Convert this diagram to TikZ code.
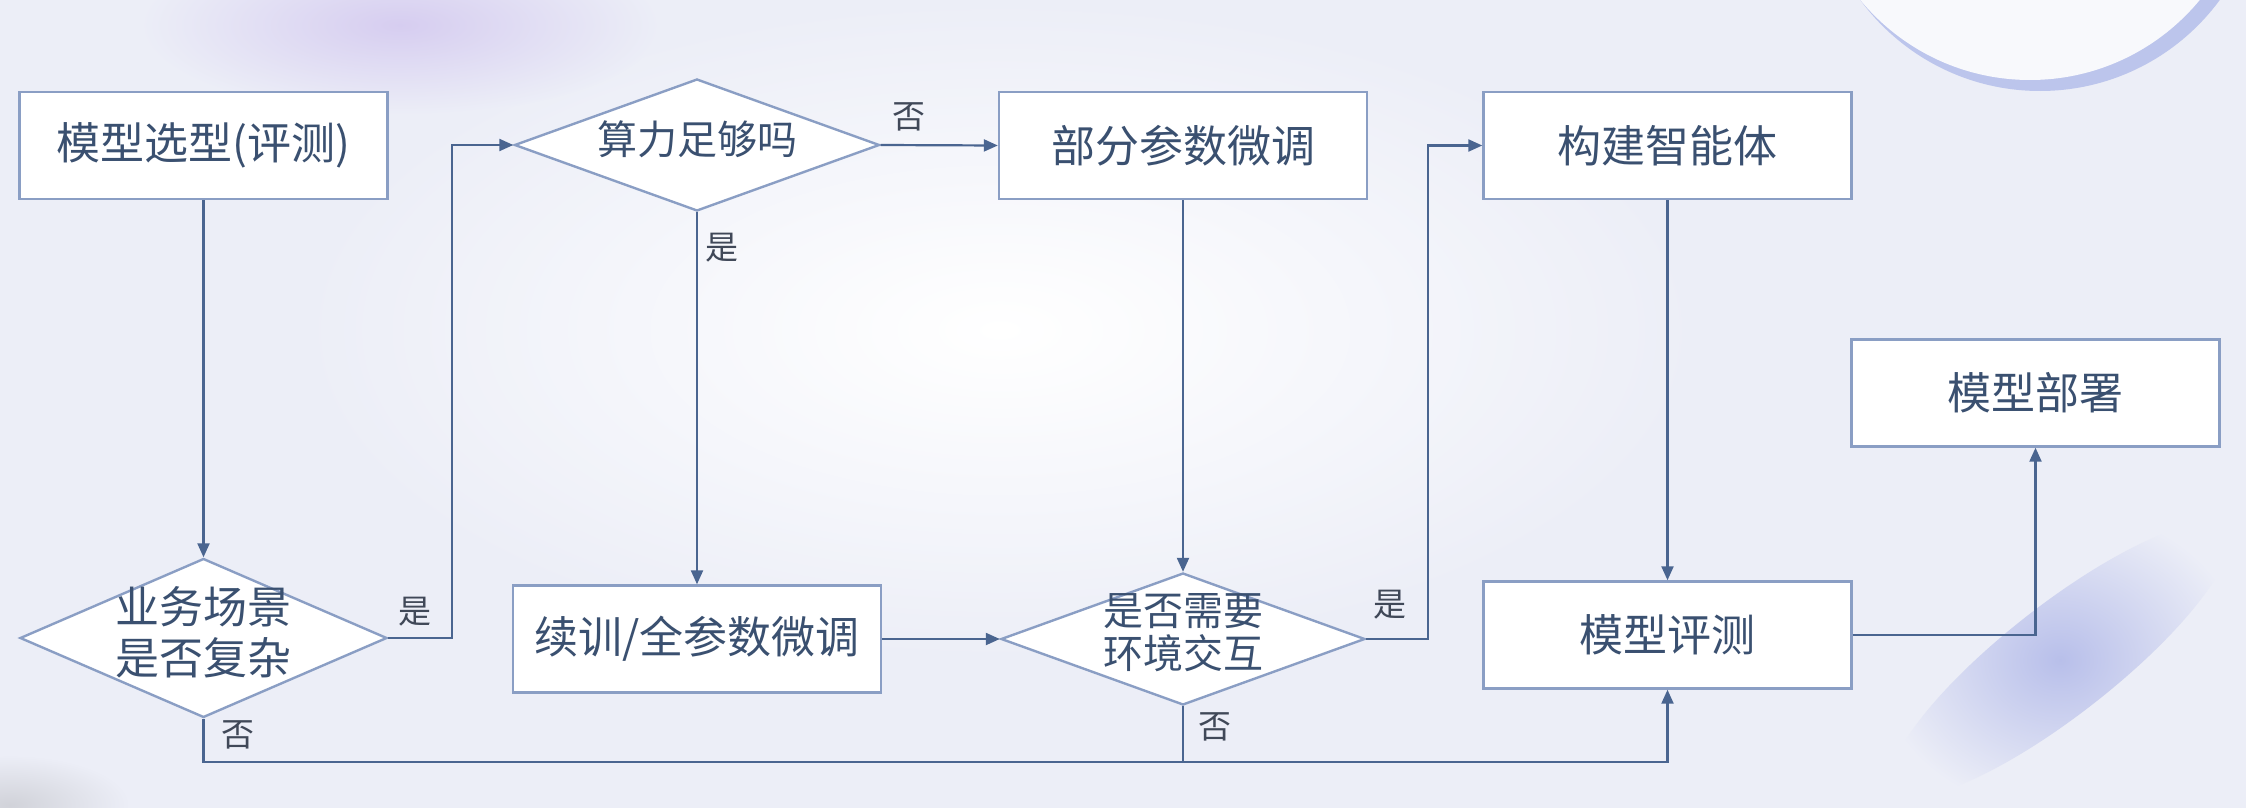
\documentclass[tikz,border=0pt]{standalone}
\usepackage{fontspec}
\newfontfamily\cjk{Noto Sans CJK SC}
\usetikzlibrary{shapes.geometric,arrows.meta}
\definecolor{bg}{HTML}{ECEEF7}
\definecolor{lav}{HTML}{D6CDF0}
\definecolor{blur}{HTML}{B8BFEA}
\definecolor{rim}{HTML}{BCC5EC}
\definecolor{edgec}{HTML}{8A9EC4}
\definecolor{wirec}{HTML}{4A6590}
\definecolor{inkc}{HTML}{3A5070}
\definecolor{labc}{HTML}{404858}
\newcommand\dtext[1]{\smash{\makebox[0pt]{\parbox[c]{340pt}{\centering #1}}}}
\begin{document}
\begin{tikzpicture}[x=1pt,y=-1pt,
  box/.style={draw=edgec,line width=2.4pt,fill=white,minimum width=368pt,minimum height=107pt,inner sep=0pt,
    font=\cjk\fontsize{44}{48}\selectfont,text=inkc},
  dia/.style={diamond,draw=edgec,line width=2.4pt,fill=white,inner sep=0pt,
    font=\cjk\fontsize{40}{43}\selectfont,text=inkc},
  wire/.style={draw=wirec,line width=2.2pt},
  arr/.style={wire,-{Triangle[length=14pt,width=12pt]}},
  lab/.style={font=\cjk\fontsize{33}{35}\selectfont,text=labc,inner sep=0pt}
]
\useasboundingbox (0,0) rectangle (2246,808);
% background
\begin{scope}
\clip (0,0) rectangle (2246,808);
\fill[bg] (0,0) rectangle (2246,808);
\shade[inner color=white,outer color=bg] (1000,330) ellipse (700 and 330);
\shade[inner color=lav,outer color=bg] (400,25) ellipse (260 and 90);
\shade[inner color=blur,outer color=bg,rotate around={38:(2060,660)}] (2060,660) ellipse (210 and 55);
\shade[inner color=gray!25!bg,outer color=bg] (10,805) ellipse (120 and 50);
\fill[rim] (2040,-132) circle (223);
\fill[white!65!bg] (2030,-140) circle (220);
\end{scope}

% nodes
\node[box] (A) at (203.5,145.5) {模型选型(评测)};
\node[dia,minimum width=365pt,minimum height=132pt] (B) at (697,145) {\dtext{算力足够吗}};
\node[box] (C) at (1183,145.5) {部分参数微调};
\node[box] (D) at (1667.5,145.5) {构建智能体};
\node[box] (E) at (2035.5,393) {模型部署};
\node[dia,minimum width=367pt,minimum height=159pt,font=\cjk\fontsize{44}{51}\selectfont] (F) at (203.5,638) {\dtext{业务场景\\是否复杂}};
\node[box] (G) at (697,639) {续训/全参数微调};
\node[dia,minimum width=364pt,minimum height=132pt] (H) at (1183,639) {\dtext{是否需要\\环境交互}};
\node[box] (I) at (1667.5,635) {模型评测};
\coordinate (bus) at (0,762);

% connectors
\draw[arr] (A.south) -- (F.north);
\draw[arr] (F.east) -- ++(64,0) |- (B.west);
\draw[arr] (B.east) -- (C.west);
\draw[arr] (B.south) -- (G.north);
\draw[arr] (C.south) -- (H.north);
\draw[arr] (G.east) -- (H.west);
\draw[arr] (H.east) -- ++(62,0) |- (D.west);
\draw[arr] (D.south) -- (I.north);
\draw[arr] (F.south) -- (F.south |- bus) -| (I.south);
\draw[wire] (H.south) -- (H.south |- bus);
\draw[arr] (I.east) -| (E.south);

% labels
\node[lab] (l1) at (415,612) {是};
\node[lab] (l2) at (909,117) {否};
\node[lab] (l3) at (722,248) {是};
\node[lab] (l4) at (1390,605) {是};
\node[lab] (l5) at (238,735) {否};
\node[lab] (l6) at (1215,727) {否};
\end{tikzpicture}
\end{document}
